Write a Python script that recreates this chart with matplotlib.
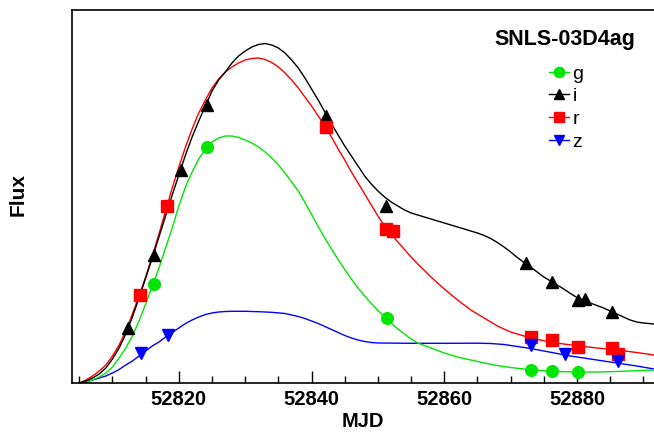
import matplotlib
matplotlib.use('Agg')
import matplotlib.pyplot as plt
from matplotlib.ticker import MultipleLocator

plt.rcParams['font.family'] = ['Liberation Sans', 'DejaVu Sans']

# measured points (MJD, flux in arbitrary units)
g_mjd = [52816.2, 52824.3, 52851.3, 52873.1, 52876.2, 52880.2]
g_flux = [99, 236, 65, 13, 12, 11]
i_mjd = [52812.3, 52816.2, 52820.3, 52824.3, 52842.2, 52851.2, 52872.3, 52876.3, 52880.2, 52881.2, 52885.3]
i_flux = [55, 128, 213, 278, 267, 177, 120, 101, 83, 84, 71]
r_mjd = [52814.2, 52818.2, 52842.1, 52851.2, 52852.2, 52873.1, 52876.2, 52880.2, 52885.3, 52886.2]
r_flux = [88, 177, 256, 154, 152, 46, 43, 36, 35, 29]
z_mjd = [52814.3, 52818.3, 52873.1, 52878.2, 52886.2]
z_flux = [30, 48, 38, 29, 22]

# fitted light curves
g_fit_mjd = [52805, 52806, 52807, 52808, 52809, 52810, 52811, 52812, 52813, 52814,
             52815, 52816, 52817, 52818, 52819, 52820, 52821, 52822, 52823, 52824,
             52825, 52826, 52827, 52828, 52829, 52830, 52831, 52832, 52833, 52834,
             52835, 52836, 52837, 52838, 52839, 52840, 52841, 52842, 52843, 52844,
             52845, 52846, 52847, 52848, 52849, 52850, 52851, 52852, 52853, 52854,
             52855, 52856, 52858, 52860, 52862, 52864, 52866, 52868, 52870, 52872,
             52874, 52876, 52878, 52880, 52883, 52886, 52889, 52891.6]
g_fit = [0, 1, 3, 6, 10, 16, 25, 35, 47, 62,
         79, 97, 115, 135, 155, 177, 196, 211, 224, 234,
         241, 245, 247, 247, 245.5, 243, 240, 236, 231, 225,
         218, 210, 201, 192, 180.5, 168.5, 156.5, 145, 134, 123.5,
         113.5, 104, 95, 87, 79.5, 72.5, 66, 60, 54, 49,
         44, 40, 35, 30, 26, 23, 20, 17.5, 15.5, 14,
         12.8, 12, 11.3, 11, 11, 11.5, 12.3, 13]

i_fit_mjd = [52805, 52806, 52807, 52808, 52809, 52810, 52811, 52812, 52813, 52814,
             52815, 52816, 52817, 52818, 52819, 52820, 52821, 52822, 52823, 52824,
             52825, 52826, 52827, 52828, 52829, 52830, 52831, 52832, 52833, 52834,
             52835, 52836, 52837, 52838, 52839, 52840, 52841, 52842, 52843, 52844,
             52845, 52846, 52847, 52848, 52849, 52850, 52851, 52852, 52853, 52854,
             52855, 52856, 52858, 52860, 52862, 52864, 52865, 52866, 52867, 52868,
             52869, 52870, 52871, 52872, 52873, 52874, 52875, 52876, 52877, 52878,
             52879, 52880, 52882, 52884, 52885, 52886, 52887, 52888, 52889, 52890,
             52891.6]
i_fit = [0, 2, 5, 9, 15, 24, 35, 49, 66, 85,
         105, 125, 146, 167, 188, 208, 228, 246, 262, 277,
         292, 303, 311, 320, 327, 332, 336, 338.5, 339.5, 338,
         335, 330, 323, 315, 305, 294, 283, 271, 259, 248,
         237, 227, 217, 207, 199, 192, 186, 181, 177, 173,
         170, 168, 164, 160, 156, 152, 150, 147.5, 144.5, 140.5,
         136, 131, 125.5, 120.5, 116, 111, 106, 102, 98, 94,
         89.5, 85.5, 80, 75, 72, 69, 66, 63, 61, 60,
         59]

r_fit_mjd = [52805, 52806, 52807, 52808, 52809, 52810, 52811, 52812, 52813, 52814,
             52815, 52816, 52817, 52818, 52819, 52820, 52821, 52822, 52823, 52824,
             52825, 52826, 52827, 52828, 52829, 52830, 52831, 52832, 52833, 52834,
             52835, 52836, 52837, 52838, 52839, 52840, 52841, 52842, 52843, 52844,
             52845, 52846, 52847, 52848, 52849, 52850, 52851, 52852, 52853, 52854,
             52855, 52856, 52858, 52860, 52862, 52864, 52866, 52868, 52870, 52872,
             52874, 52876, 52878, 52880, 52883, 52886, 52889, 52891.6]
r_fit = [0, 3, 7, 12, 18, 27, 38, 52, 69, 87,
         106, 127, 149, 172, 195, 216, 236, 254, 270, 283,
         295, 304, 311, 316, 320, 323, 324.5, 325, 323.5, 320.5,
         316, 310, 303, 295, 286, 277, 267, 257, 246, 234,
         223, 211, 200, 189, 178, 167, 157, 149, 141, 133.5,
         126, 119, 106, 94, 83, 73, 65, 57, 51, 47,
         43.5, 41, 39, 37.3, 35, 33, 30.5, 28]

z_fit_mjd = [52805, 52806, 52807, 52808, 52809, 52810, 52811, 52812, 52813, 52814,
             52815, 52816, 52817, 52818, 52819, 52820, 52821, 52822, 52823, 52824,
             52825, 52826, 52827, 52828, 52830, 52832, 52834, 52836, 52837, 52838,
             52839, 52840, 52841, 52842, 52843, 52844, 52845, 52846, 52847, 52848,
             52849, 52850, 52855, 52860, 52865, 52867, 52869, 52871, 52873, 52875,
             52877, 52879, 52881, 52883, 52885, 52887, 52889, 52891.6]
z_fit = [0, 1, 3, 5, 7, 10, 13.5, 18, 22, 27,
         32, 37, 41, 46, 50.5, 55, 59.5, 63, 66, 68.5,
         70, 71, 71.5, 71.7, 71.7, 71.3, 70.7, 69.5, 68, 66.5,
         64.5, 62, 59.5, 56.5, 53.5, 50.5, 47.5, 45, 43, 41.5,
         40.5, 40, 39.7, 39.7, 39.8, 39.5, 38.5, 36.5, 34.5, 32,
         29.5, 27, 25, 23, 21, 19, 17, 14]

bands = ['g', 'i', 'r', 'z']
colors = {'g': '#00e600', 'i': 'black', 'r': '#ff0000', 'z': '#0000ff'}
markers = {'g': 'o', 'i': '^', 'r': 's', 'z': 'v'}
msizes = {'g': 8.4, 'i': 8.0, 'r': 8.2, 'z': 8.0}

pts = {'g': (g_mjd, g_flux), 'i': (i_mjd, i_flux), 'r': (r_mjd, r_flux), 'z': (z_mjd, z_flux)}
fits = {'g': (g_fit_mjd, g_fit), 'i': (i_fit_mjd, i_fit), 'r': (r_fit_mjd, r_fit), 'z': (z_fit_mjd, z_fit)}

fig = plt.figure(figsize=(6.54, 4.34), dpi=100)
ax = fig.add_axes([72 / 654, 51 / 434, 1 - 72 / 654, 373 / 434])

for b in ['z', 'g', 'r', 'i']:
    x, y = fits[b]
    ax.plot(x, y, color=colors[b], lw=1.0, zorder=2)

handles = []
for b in bands:
    x, y = pts[b]
    ax.plot(x, y, ls='none', marker=markers[b], ms=msizes[b], color=colors[b], zorder=3)
    h, = ax.plot([], [], color=colors[b], marker=markers[b], ms=msizes[b], lw=1.0, label=b)
    handles.append(h)

ax.set_xlim(52803.9, 52891.6)
ax.set_ylim(0, 373)

ax.xaxis.set_major_locator(MultipleLocator(20))
ax.xaxis.set_minor_locator(MultipleLocator(5))
ax.tick_params(axis='x', which='major', direction='in', length=8.5, width=1.0, pad=5,
               labelsize=14.5)
ax.tick_params(axis='x', which='minor', direction='in', length=5, width=1.0)
ax.tick_params(axis='y', left=False, labelleft=False)
for lab in ax.get_xticklabels():
    lab.set_fontweight('bold')

for s in ['left', 'top', 'bottom']:
    ax.spines[s].set_linewidth(1.2)
ax.spines['right'].set_visible(False)

ax.set_xlabel('MJD', fontsize=14.5, fontweight='bold')
ax.xaxis.set_label_coords((363 - 72) / 582, -0.078)
fig.text(18 / 654, 1 - 195 / 434, 'Flux', rotation=90, fontsize=15, fontweight='bold',
         ha='center', va='center')

fig.text(565 / 654, 1 - 45 / 434, 'SNLS-03D4ag', fontsize=15.5, fontweight='bold',
         ha='center', va='baseline')

fig.legend(handles=handles, loc='upper left', bbox_to_anchor=(549 / 654, 1 - 65 / 434),
           frameon=False, fontsize=14, handlelength=1.05, handletextpad=0.15,
           labelspacing=0.26, borderpad=0, borderaxespad=0, markerscale=0.88)

fig.savefig('out.png', dpi=100)
